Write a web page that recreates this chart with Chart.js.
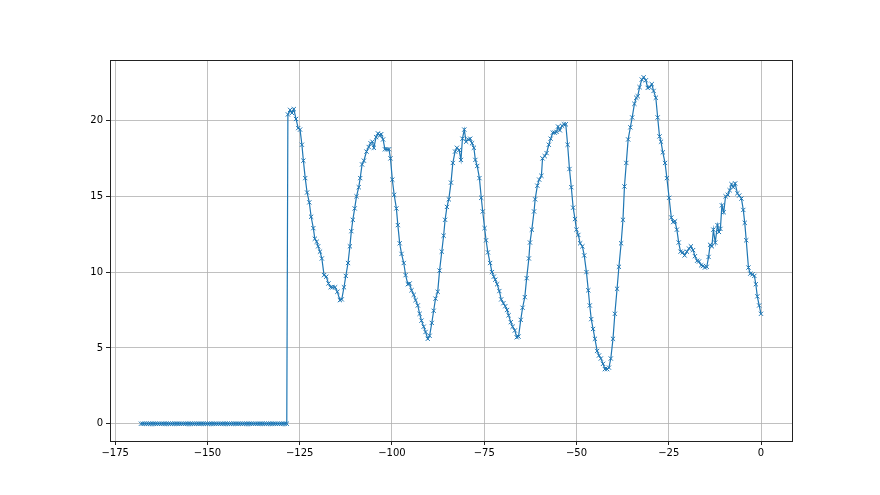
<!DOCTYPE html>
<html>
<head>
<meta charset="utf-8">
<script src="https://cdn.jsdelivr.net/npm/chart.js@4/dist/chart.umd.min.js"></script>
<style>
  html, body { margin: 0; padding: 0; background: #fff; }
  #myChart { display: block; }
</style>
</head>
<body>
<canvas id="myChart" width="880" height="495"></canvas>
<script>
// flat part at the start (value 0)
var flatTimes = [
  -168, -167.5, -167, -166.5, -166, -165.5, -165, -164.5, -164, -163.5,
  -163, -162.5, -162, -161.5, -161, -160.5, -160, -159.5, -159, -158.5,
  -158, -157.5, -157, -156.5, -156, -155.5, -155, -154.5, -154, -153.5,
  -153, -152.5, -152, -151.5, -151, -150.5, -150, -149.5, -149, -148.5,
  -148, -147.5, -147, -146.5, -146, -145.5, -145, -144.5, -144, -143.5,
  -143, -142.5, -142, -141.5, -141, -140.5, -140, -139.5, -139, -138.5,
  -138, -137.5, -137, -136.5, -136, -135.5, -135, -134.5, -134, -133.5,
  -133, -132.5, -132, -131.5, -131, -130.5, -130, -129.5, -129, -128.5
];
var flatValues = [
  0, 0, 0, 0, 0, 0, 0, 0, 0, 0,
  0, 0, 0, 0, 0, 0, 0, 0, 0, 0,
  0, 0, 0, 0, 0, 0, 0, 0, 0, 0,
  0, 0, 0, 0, 0, 0, 0, 0, 0, 0,
  0, 0, 0, 0, 0, 0, 0, 0, 0, 0,
  0, 0, 0, 0, 0, 0, 0, 0, 0, 0,
  0, 0, 0, 0, 0, 0, 0, 0, 0, 0,
  0, 0, 0, 0, 0, 0, 0, 0, 0, 0
];

// the oscillating part
var waveTimes = [
  -128.2, -127.6, -127.1, -126.6, -126.0, -125.4, -124.9, -124.4, -124.0, -123.5,
  -123.0, -122.4, -121.9, -121.3, -120.9, -120.4, -120.0, -119.5, -119.0, -118.4,
  -117.8, -117.2, -116.6, -116.1, -115.4, -114.8, -114.1, -113.6, -113.0, -112.5,
  -111.9, -111.4, -111.0, -110.6, -110.1, -109.6, -109.0, -108.6, -108.1, -107.6,
  -106.9, -106.3, -105.8, -105.3, -104.9, -104.3, -103.8, -103.3, -102.9, -102.4,
  -101.9, -101.3, -100.8, -100.4, -99.9, -99.4, -98.8, -98.4, -97.9, -97.4,
  -96.8, -96.3, -95.7, -95.2, -94.7, -94.1, -93.6, -93.0, -92.5, -92.0,
  -91.4, -90.9, -90.3, -89.8, -89.2, -88.7, -88.2, -87.6, -87.1, -86.5,
  -86.0, -85.6, -85.1, -84.6, -84.0, -83.5, -82.9, -82.4, -81.8, -81.3,
  -80.9, -80.4, -79.9, -79.3, -78.8, -78.3, -77.8, -77.4, -76.9, -76.3,
  -75.8, -75.4, -74.9, -74.5, -74.0, -73.4, -72.9, -72.4, -72.0, -71.5,
  -70.9, -70.4, -69.8, -69.3, -68.8, -68.4, -67.8, -67.3, -66.7, -66.2,
  -65.7, -65.1, -64.6, -64.0, -63.5, -62.9, -62.6, -62.1, -61.5, -61.2,
  -60.6, -60.1, -59.5, -59.2, -58.6, -58.1, -57.5, -57.0, -56.4, -55.9,
  -55.4, -55.0, -54.5, -53.9, -53.4, -52.9, -52.4, -51.9, -51.4, -50.9,
  -50.4, -50.0, -49.5, -49.0, -48.4, -47.9, -47.3, -46.8, -46.4, -46.0,
  -45.5, -45.0, -44.4, -43.9, -43.4, -42.8, -42.3, -41.7, -41.2, -40.7,
  -40.1, -39.6, -39.0, -38.5, -37.9, -37.4, -37.0, -36.5, -36.0, -35.4,
  -34.9, -34.3, -33.8, -33.4, -32.9, -32.3, -31.8, -31.2, -30.7, -30.2,
  -29.6, -29.1, -28.5, -28.0, -27.5, -27.1, -26.6, -26.0, -25.5, -24.9,
  -24.3, -23.8, -23.3, -22.8, -22.3, -21.8, -21.2, -20.7, -20.1, -19.5,
  -19.0, -18.4, -17.9, -17.3, -16.8, -16.2, -15.7, -15.2, -14.7, -14.2,
  -13.8, -13.3, -12.9, -12.4, -11.8, -11.4, -11.0, -10.6, -10.1, -9.6,
  -9.0, -8.5, -8.0, -7.5, -7.0, -6.4, -5.9, -5.3, -4.8, -4.4,
  -4.0, -3.4, -2.9, -2.3, -1.8, -1.4, -1.0, -0.5, 0.0
];
var waveValues = [
  20.4, 20.7, 20.5, 20.75, 20.1, 19.5, 19.4, 18.4, 17.35, 16.2,
  15.25, 14.6, 13.65, 12.9, 12.2, 12.0, 11.7, 11.35, 10.9, 9.8,
  9.7, 9.25, 9.0, 9.0, 9.0, 8.7, 8.15, 8.2, 9.0, 9.75,
  10.6, 11.7, 12.7, 13.45, 14.2, 15.0, 15.6, 16.2, 17.1, 17.35,
  17.95, 18.25, 18.5, 18.6, 18.2, 18.9, 19.15, 19.0, 19.1, 18.75,
  18.1, 18.1, 18.1, 17.5, 16.1, 15.1, 14.2, 13.1, 11.9, 11.2,
  10.6, 9.8, 9.2, 9.25, 8.8, 8.5, 8.15, 7.8, 7.25, 6.8,
  6.4, 6.05, 5.6, 5.8, 6.65, 7.45, 8.25, 8.7, 10.1, 11.35,
  12.4, 13.45, 14.3, 14.8, 15.9, 17.2, 17.95, 18.2, 18.05, 17.4,
  18.8, 19.4, 18.6, 18.75, 18.8, 18.5, 18.2, 17.4, 17.0, 16.2,
  14.9, 14.0, 12.9, 12.1, 11.3, 10.6, 10.0, 9.7, 9.5, 9.2,
  8.75, 8.2, 7.95, 7.75, 7.5, 7.15, 6.7, 6.4, 6.15, 5.7,
  5.75, 6.85, 7.65, 8.35, 9.6, 10.9, 11.95, 12.8, 14.0, 14.8,
  15.7, 16.1, 16.35, 17.5, 17.65, 17.85, 18.4, 18.8, 19.2, 19.2,
  19.25, 19.6, 19.35, 19.65, 19.75, 19.75, 18.4, 16.8, 15.6, 14.25,
  13.5, 12.8, 12.45, 11.9, 11.7, 11.1, 10.0, 8.8, 7.8, 6.9,
  6.25, 5.6, 4.8, 4.5, 4.3, 3.95, 3.6, 3.6, 3.7, 4.3,
  5.6, 7.25, 8.9, 10.35, 11.9, 13.45, 15.65, 17.2, 18.75, 19.55,
  20.2, 21.1, 21.5, 21.6, 22.2, 22.7, 22.85, 22.65, 22.15, 22.2,
  22.4, 21.95, 21.5, 20.2, 18.95, 18.6, 17.9, 17.2, 16.2, 14.9,
  13.6, 13.3, 13.35, 12.8, 11.95, 11.35, 11.3, 11.1, 11.35, 11.55,
  11.7, 11.45, 11.05, 10.75, 10.7, 10.45, 10.4, 10.3, 10.35, 11.0,
  11.8, 11.7, 12.8, 11.95, 13.1, 12.65, 12.85, 14.4, 13.95, 15.0,
  15.1, 15.4, 15.8, 15.6, 15.85, 15.2, 15.05, 14.85, 14.1, 13.25,
  12.1, 10.3, 9.9, 9.85, 9.75, 9.2, 8.4, 7.8, 7.25
];

var xTicks = [-175, -150, -125, -100, -75, -50, -25, 0];
var yTicks = [0, 5, 10, 15, 20];

var times = flatTimes.concat(waveTimes);
var values = flatValues.concat(waveValues);
var points = times.map(function(t, i){ return {x: t, y: values[i]}; });

var lineColor = '#1f77b4';
var tickFont = {family: 'DejaVu Sans', size: 10};

function minusLabel(v){
  return v < 0 ? '\u2212' + Math.abs(v) : String(v);
}

// draw the box round the axes like matplotlib spines
var frame = {
  id: 'frame',
  afterDatasetsDraw: function(chart){
    var a = chart.chartArea;
    var ctx = chart.ctx;
    ctx.save();
    ctx.strokeStyle = '#222';
    ctx.lineWidth = 1;
    ctx.strokeRect(Math.round(a.left) + 0.5, Math.round(a.top) + 0.5,
      Math.round(a.right - a.left), Math.round(a.bottom - a.top));
    ctx.restore();
  }
};

var ctx = document.getElementById('myChart').getContext('2d');
var chart = new Chart(ctx, {
  type: 'line',
  data: {
    datasets: [{
      data: points,
      borderColor: lineColor,
      backgroundColor: lineColor,
      borderWidth: 1.2,
      pointStyle: 'crossRot',
      pointRadius: 3,
      pointBorderWidth: 1,
      pointBorderColor: lineColor,
      pointHoverRadius: 3,
      tension: 0,
      fill: false
    }]
  },
  options: {
    responsive: false,
    animation: false,
    layout: {padding: {left: 0, top: 60, right: 88, bottom: 34}},
    plugins: {legend: {display: false}, tooltip: {enabled: false}},
    scales: {
      x: {
        type: 'linear',
        min: -176.4,
        max: 8.4,
        afterBuildTicks: function(scale){
          scale.ticks = xTicks.map(function(v){ return {value: v}; });
        },
        afterFit: function(scale){ scale.height = 20; },
        grid: {color: '#b0b0b0', lineWidth: 0.8, tickLength: 4, tickColor: '#222', tickWidth: 1},
        border: {display: false},
        ticks: {font: tickFont, color: '#000', padding: 2, maxRotation: 0, autoSkip: false,
          callback: minusLabel}
      },
      y: {
        type: 'linear',
        min: -1.14,
        max: 23.99,
        afterBuildTicks: function(scale){
          scale.ticks = yTicks.map(function(v){ return {value: v}; });
        },
        afterFit: function(scale){ scale.width = 110; },
        grid: {color: '#b0b0b0', lineWidth: 0.8, tickLength: 4, tickColor: '#222', tickWidth: 1},
        border: {display: false},
        ticks: {font: tickFont, color: '#000', padding: 3, autoSkip: false,
          callback: minusLabel}
      }
    }
  },
  plugins: [frame]
});
</script>
</body>
</html>
